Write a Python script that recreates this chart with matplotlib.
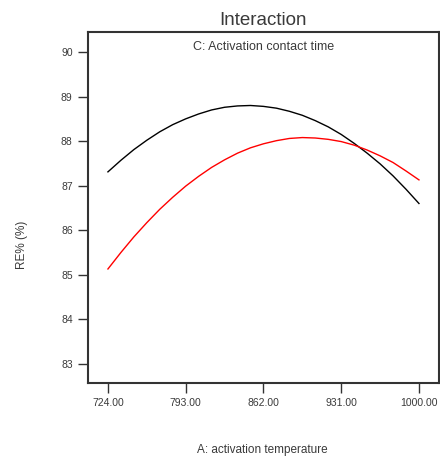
import matplotlib
matplotlib.use("Agg")
from matplotlib import pyplot as plt

# A: activation temperature
temp = [724, 735.5, 747, 758.5, 770, 781.5, 793, 804.5, 816, 827.5, 839, 850.5, 862,
        873.5, 885, 896.5, 908, 919.5, 931, 942.5, 954, 965.5, 977, 988.5, 1000]
# RE% for the two levels of C: activation contact time
re_black = [87.31, 87.57, 87.81, 88.02, 88.21, 88.37, 88.50, 88.61, 88.70, 88.76, 88.79, 88.80, 88.78,
            88.74, 88.67, 88.58, 88.46, 88.32, 88.15, 87.95, 87.73, 87.49, 87.22, 86.92, 86.60]
re_red = [85.13, 85.50, 85.85, 86.17, 86.47, 86.74, 86.99, 87.21, 87.41, 87.58, 87.73, 87.85, 87.94,
          88.01, 88.06, 88.08, 88.07, 88.04, 87.99, 87.91, 87.80, 87.67, 87.52, 87.33, 87.13]

xticks = [724, 793, 862, 931, 1000]
yticks = [83, 84, 85, 86, 87, 88, 89, 90]

plt.rcParams["font.family"] = ["Liberation Sans", "DejaVu Sans"]
TXT = "#3a3a3a"

fig = plt.figure(figsize=(4.4, 4.61), dpi=100)
ax = fig.add_axes([0.2, 0.1692, 0.797, 0.7614])

ax.plot(temp, re_black, color="black", lw=1.0)
ax.plot(temp, re_red, color="red", lw=1.0)

ax.set_xlim(706.3, 1017.5)
ax.set_ylim(82.57, 90.45)
ax.set_xticks(xticks)
ax.set_xticklabels(["%.2f" % t for t in xticks])
ax.set_yticks(yticks)

for s in ax.spines.values():
    s.set_color("#333333")
    s.set_linewidth(1.5)

ax.tick_params(axis="both", direction="out", length=7, width=1.0,
               colors="#333333", labelsize=7.5, labelcolor=TXT, pad=4)

ax.set_title("Interaction", fontsize=13.5, color=TXT, pad=5)
ax.text(0.5, 0.975, "C: Activation contact time", transform=ax.transAxes,
        ha="center", va="top", fontsize=9, color=TXT)

fig.text(0.05, 0.468, "RE% (%)", rotation=90, ha="center", va="center",
         fontsize=8.5, color=TXT)
fig.text(0.596, 0.024, "A: activation temperature", ha="center", va="center",
         fontsize=8.5, color=TXT)

fig.savefig("out.png", dpi=100)
